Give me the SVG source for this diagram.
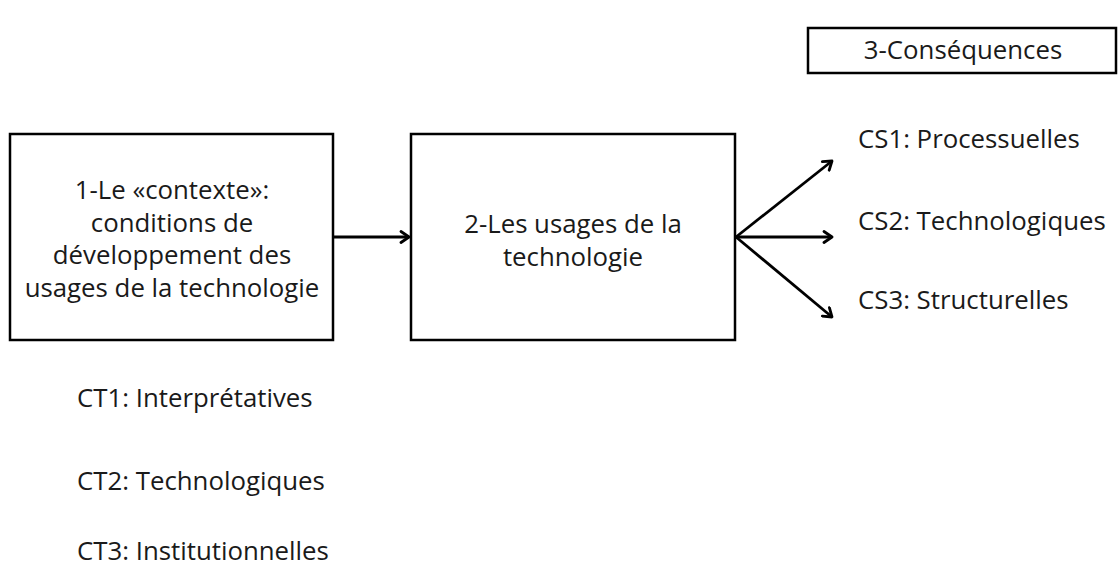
<svg xmlns="http://www.w3.org/2000/svg" width="1119" height="569" viewBox="0 0 1119 569">
<defs>
<style>
.box{fill:#fff;stroke:#000;stroke-width:2.5}
.t{font-family:"Open Sans","Noto Sans",sans-serif;font-size:25.8px;fill:#1a1a1a}
.c{text-anchor:middle}
.ln{stroke:#000;stroke-width:2.8;fill:none}
</style>
<marker id="ah" viewBox="0 0 14 14" refX="11" refY="7" markerWidth="14" markerHeight="14" markerUnits="userSpaceOnUse" orient="auto">
<path d="M3,1.5 L11,7 L3,12.5" stroke="#000" stroke-width="2.8" fill="none" stroke-linecap="round" stroke-linejoin="round"/>
</marker>
</defs>
<rect width="1119" height="569" fill="#fff"/>
<g id="connectors">
<line class="ln" x1="334" y1="237" x2="409" y2="237" marker-end="url(#ah)"/>
<line class="ln" x1="736" y1="237" x2="832" y2="161" marker-end="url(#ah)"/>
<line class="ln" x1="736" y1="237" x2="832" y2="237" marker-end="url(#ah)"/>
<line class="ln" x1="736" y1="237" x2="832" y2="317" marker-end="url(#ah)"/>
</g>
<g id="node1">
<rect class="box" x="10" y="134" width="323" height="206"/>
<text class="t c"><tspan x="172" y="199">1-Le «contexte»:</tspan><tspan x="172" y="231.5">conditions de</tspan><tspan x="172" y="264">développement des</tspan><tspan x="172" y="296.5">usages de la technologie</tspan></text>
</g>
<g id="node2">
<rect class="box" x="411" y="134" width="324" height="206"/>
<text class="t c"><tspan x="573" y="233">2-Les usages de la</tspan><tspan x="573" y="266">technologie</tspan></text>
</g>
<g id="node3">
<rect class="box" x="808" y="28" width="308" height="45"/>
<text class="t c" x="963" y="59">3-Conséquences</text>
</g>
<g id="cs">
<text class="t" x="858" y="148">CS1: Processuelles</text>
<text class="t" x="858" y="230">CS2: Technologiques</text>
<text class="t" x="858" y="309">CS3: Structurelles</text>
</g>
<g id="ct">
<text class="t" x="77" y="407">CT1: Interprétatives</text>
<text class="t" x="77" y="490">CT2: Technologiques</text>
<text class="t" x="77" y="560">CT3: Institutionnelles</text>
</g>
</svg>
